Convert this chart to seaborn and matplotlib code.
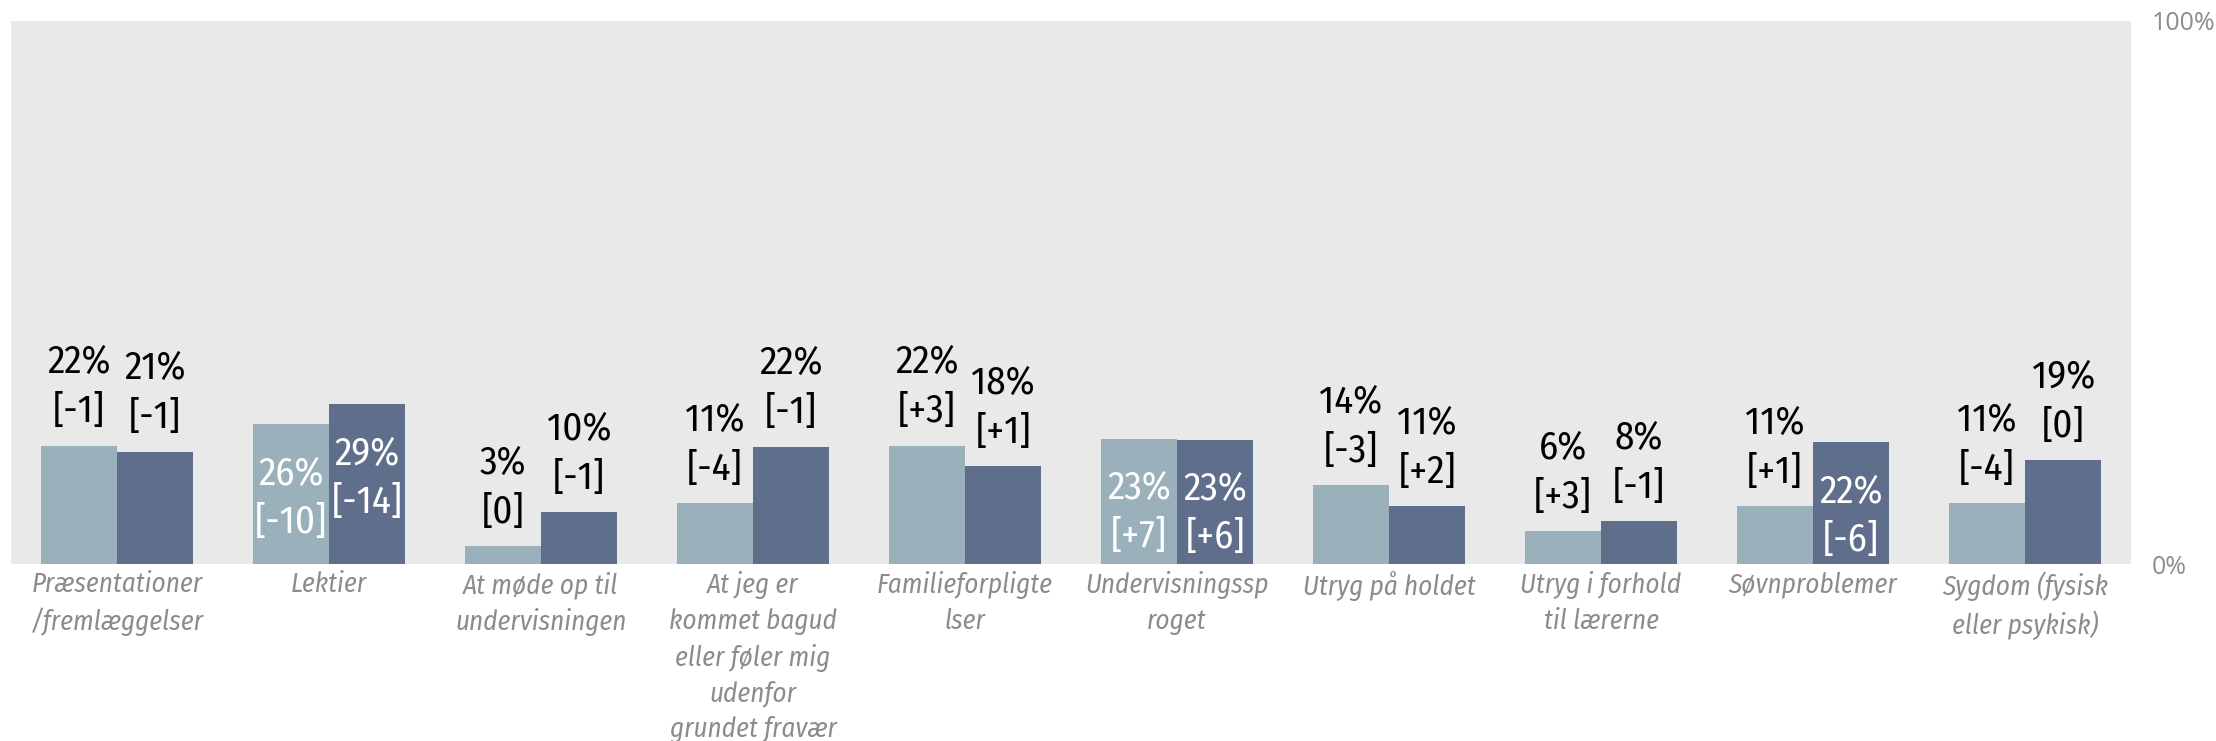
import matplotlib
matplotlib.use('Agg')
import matplotlib.pyplot as plt
from matplotlib import font_manager
import pandas as pd
import seaborn as sns

# data
kategorier = ['Præsentationer\n/fremlæggelser', 'Lektier', 'At møde op til\nundervisningen',
              'At jeg er\nkommet bagud\neller føler mig\nudenfor\ngrundet fravær',
              'Familieforpligte\nlser', 'Undervisningssp\nroget', 'Utryg på holdet',
              'Utryg i forhold\ntil lærerne', 'Søvnproblemer', 'Sygdom (fysisk\neller psykisk)']
serie_1 = [21.8, 25.7, 3.3, 11.2, 21.8, 23.1, 14.5, 6.0, 10.6, 11.2]
serie_2 = [20.7, 29.4, 9.5, 21.6, 18.0, 22.9, 10.6, 7.9, 22.4, 19.1]
aendring_1 = ['-1', '-10', '0', '-4', '+3', '+7', '-3', '+3', '+1', '-4']
aendring_2 = ['-1', '-14', '-1', '-1', '+1', '+6', '+2', '-1', '-6', '0']
serier = ['Serie 1', 'Serie 2']

df = pd.DataFrame({
    'kategori': kategorier * 2,
    'andel': serie_1 + serie_2,
    'serie': [serier[0]] * len(kategorier) + [serier[1]] * len(kategorier),
})

# a narrow font, if one is there
avail = {(f.name, f.style) for f in font_manager.fontManager.ttflist}
def pick(cands, style):
    for c in cands:
        if (c, style) in avail:
            return c
    return 'DejaVu Sans'
narrow = ['Fira Sans Condensed', 'PT Sans Narrow', 'Roboto Condensed', 'Liberation Sans Narrow']
f_val = pick(narrow, 'normal')
f_lab = pick(narrow, 'italic')

sns.set_style('white')
plt.rcParams['font.family'] = [f_val, 'DejaVu Sans']

fig = plt.figure(figsize=(22.16, 7.41), dpi=100)
ax = fig.add_axes([11 / 2216, 1 - 564 / 741, 2120 / 2216, 543 / 741])
ax.set_facecolor('#e9e9e9')

sns.barplot(data=df, x='kategori', y='andel', hue='serie', order=kategorier,
            palette=['#9ab1bc', '#5f6f8b'], width=0.72, saturation=1,
            linewidth=0, legend=False, ax=ax)

# labels: value and change in brackets, inside the bar when it is tall enough
for cont, vals, deltas in zip(ax.containers, [serie_1, serie_2], [aendring_1, aendring_2]):
    for bar, v, d in zip(cont.patches, vals, deltas):
        x = bar.get_x() + bar.get_width() / 2
        top = bar.get_height()
        if v >= 22.2:
            offs, col = (-50, -98), 'white'
        else:
            offs, col = (83, 34), 'black'
        for txt, off in zip([f'{round(v)}%', f'[{d}]'], offs):
            ax.annotate(txt, (x, top), xytext=(0, off * 0.72), textcoords='offset points',
                        ha='center', va='center', fontsize=28, color=col,
                        family=[f_val, 'DejaVu Sans'])

ax.set_xlim(-0.5, len(kategorier) - 0.5)
ax.set_ylim(0, 100)
ax.set_xlabel('')
ax.set_ylabel('')
ax.yaxis.tick_right()
ax.set_yticks([0, 100])
ax.set_yticklabels(['0%', '100%'], family=['Open Sans', 'DejaVu Sans'], fontsize=18, color='#8c8c8c')
ax.tick_params(axis='y', length=0, pad=15)
ax.tick_params(axis='x', length=0, pad=5)
for lab in ax.get_xticklabels():
    lab.set_family([f_lab, 'DejaVu Sans'])
    lab.set_fontstyle('italic')
    lab.set_fontsize(19.5)
    lab.set_color('#8c8c8c')
    lab.set_linespacing(1.41)
    lab.set_verticalalignment('top')
for s in ax.spines.values():
    s.set_visible(False)

plt.savefig('out.png', dpi=100)
